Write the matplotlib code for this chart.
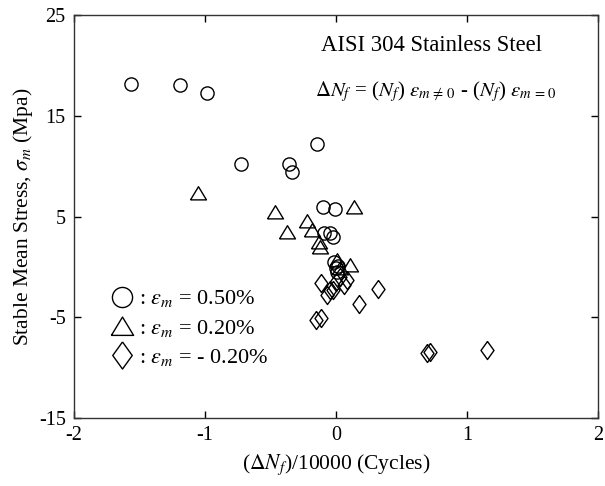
import matplotlib
matplotlib.use("Agg")
import matplotlib.pyplot as plt
from matplotlib.lines import Line2D

plt.rcParams['font.family'] = ['Liberation Serif', 'DejaVu Serif']
plt.rcParams['mathtext.fontset'] = 'stix'
plt.rcParams['axes.unicode_minus'] = False

# Data: x = (Delta N_f)/10000, y = stable mean stress (MPa)
circ_x = [-1.565, -1.191, -0.985, -0.725, -0.145, -0.359, -0.336, -0.099, -0.008,
          -0.092, -0.046, -0.023, -0.015, 0.000, 0.008, 0.015]
circ_y = [18.15, 18.05, 17.26, 10.21, 12.19, 10.21, 9.42, 5.94, 5.74,
          3.36, 3.36, 2.96, 0.48, -0.11, -0.51, 0.09]

tri_x = [-1.053, -0.466, -0.221, -0.374, -0.183, -0.130, -0.122, 0.137, 0.008, 0.107, 0.030]
tri_y = [7.33, 5.45, 4.55, 3.46, 3.66, 2.47, 1.97, 5.94, 0.68, 0.19, -0.10]

dia_x = [-0.115, -0.046, -0.069, -0.023, 0.061, 0.321, 0.176, -0.153, -0.115,
         0.695, 0.718, 1.153, 0.031, 0.084, 0.000]
dia_y = [-1.60, -2.30, -2.79, -2.30, -1.80, -2.20, -3.69, -5.27, -5.08,
         -8.55, -8.45, -8.25, -1.01, -1.30, -1.50]

x_ticks = [-2, -1, 0, 1, 2]
y_ticks = [-15, -5, 5, 15, 25]

tri_marker = [(-1.0, -0.8), (1.0, -0.8), (0.0, 0.85), (-1.0, -0.8)]
dia_marker = [(0.0, 1.0), (0.72, 0.0), (0.0, -1.0), (-0.72, 0.0), (0.0, 1.0)]

fig = plt.figure(figsize=(6.05, 4.86), dpi=100)
ax = fig.add_axes([74/605, 1 - 418/486, 524/605, 403/486])

mk = dict(linestyle='none', markerfacecolor='none', markeredgecolor='black', markeredgewidth=1.0)
ax.plot(circ_x, circ_y, marker='o', markersize=9.5, **mk)
ax.plot(tri_x, tri_y, marker=tri_marker, markersize=11.5, **mk)
ax.plot(dia_x, dia_y, marker=dia_marker, markersize=13, **mk)

ax.set_xlim(-2, 2)
ax.set_ylim(-15, 25)
ax.set_xticks(x_ticks)
ax.set_yticks(y_ticks)
ax.tick_params(direction='in', length=5, width=1, top=True, right=True,
               labelsize=14.5, pad=6, colors='black')
for s in ax.spines.values():
    s.set_linewidth(1.0)
    s.set_color('#333333')

ax.set_xlabel(r'($\Delta N_f$)/10000 (Cycles)', fontsize=15.5, labelpad=5)
ax.set_ylabel(r'Stable Mean Stress, $\sigma_m$ (Mpa)', fontsize=15.5, labelpad=3)

ax.text(0.893, 0.925, 'AISI 304 Stainless Steel', transform=ax.transAxes,
        fontsize=16.3, ha='right', va='center')
ax.text(0.922, 0.809,
        r'$\mathit{\Delta N_f}$ = ($\mathit{N_f}$) $\varepsilon_{m\,\neq\,0}$ - ($\mathit{N_f}$) $\varepsilon_{m\,=\,0}$',
        transform=ax.transAxes, fontsize=15, ha='right', va='center')

handles = [
    Line2D([], [], marker='o', markersize=14.5, **mk),
    Line2D([], [], marker=tri_marker, markersize=16, **mk),
    Line2D([], [], marker=dia_marker, markersize=19.5, **mk),
]
labels = [r': $\varepsilon_m$ = 0.50%', r': $\varepsilon_m$ = 0.20%', r': $\varepsilon_m$ = - 0.20%']
ax.legend(handles, labels, loc='lower left', bbox_to_anchor=(0.04, 0.085),
          frameon=False, fontsize=16, handlelength=1.0, handletextpad=0.3,
          labelspacing=0.38, borderpad=0.2)

fig.savefig('out.png', dpi=100)
